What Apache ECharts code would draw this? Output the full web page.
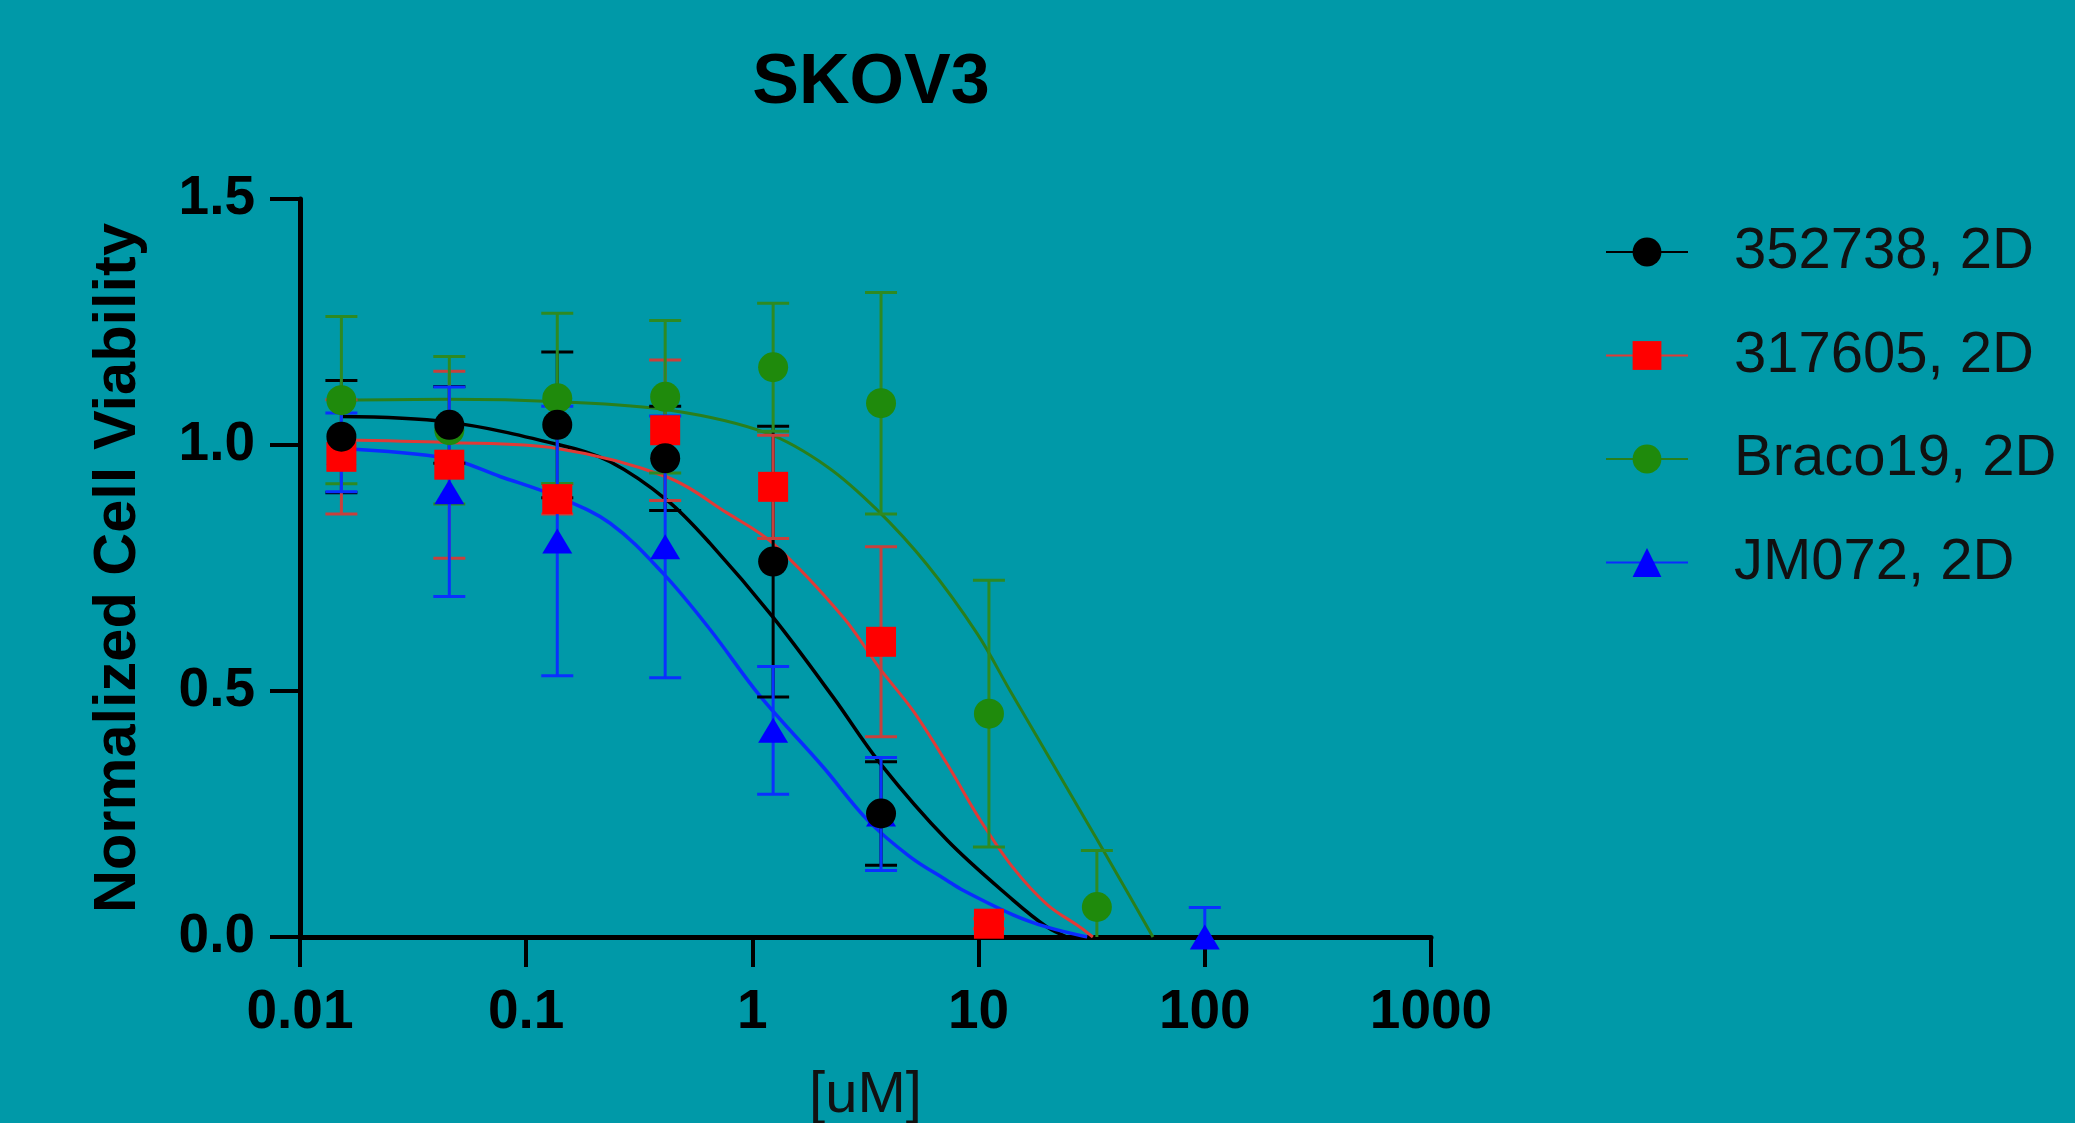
<!DOCTYPE html>
<html lang="en">
    <head>
        <meta charset="UTF-8" />
        <script type="text/javascript" src="https://cdn.jsdelivr.net/npm/echarts@6/dist/echarts.min.js"></script>
        <title>SKOV3</title>
        <style type="text/css">
            html,
            body {
                margin: 0;
                padding: 0;
                background: #0099a8;
            }
            #chart {
                width: 2075px;
                height: 1123px;
            }
        </style>
    </head>

    <body>
        <div id="chart"></div>
        <script type="text/javascript">
            // 3-fold dilution series, uM
            const concentrations = [0.01524, 0.04572, 0.1372, 0.4115, 1.235, 3.704, 11.11, 33.33, 100];
            const seriesNames = ["352738, 2D", "317605, 2D", "Braco19, 2D", "JM072, 2D"];
            const xTickLabels = ["0.01", "0.1", "1", "10", "100", "1000"];
            const yTickLabels = ["0.0", "0.5", "1.0", "1.5"];

            // mean and SD per concentration (null = no point drawn)
            const mean352738 = [1.017, 1.041, 1.041, 0.973, 0.763, 0.251, null, null, null];
            const sd352738 = [0.114, 0.078, 0.148, 0.106, 0.275, 0.105, null, null, null];
            const mean317605 = [0.976, 0.96, 0.89, 1.03, 0.915, 0.6, 0.027, null, null];
            const sd317605 = [0.116, 0.19, 0.03, 0.143, 0.105, 0.193, 0.01, null, null];
            const meanBraco19 = [1.091, 1.03, 1.095, 1.098, 1.158, 1.085, 0.454, 0.061, null];
            const sdBraco19 = [0.17, 0.15, 0.173, 0.155, 0.13, 0.225, 0.271, 0.115, null];
            const meanJM072 = [0.985, 0.905, 0.805, 0.793, 0.42, 0.25, null, null, 0.0];
            const sdJM072 = [0.08, 0.213, 0.274, 0.266, 0.13, 0.115, null, null, 0.06];

            // fitted curves
            const fit352738X = [0.0152, 0.0447, 0.141, 0.235, 0.419, 0.65, 1.233, 2.27, 3.67, 7.25, 14.2, 20.1, 24.6];
            const fit352738Y = [1.058, 1.047, 1.0, 0.966, 0.888, 0.8, 0.65, 0.488, 0.353, 0.197, 0.075, 0.02, 0.0];
            const fit317605X = [0.0152, 0.0447, 0.137, 0.419, 0.772, 1.233, 2.52, 3.67, 5.13, 7.25, 10.1, 14.2, 20.1, 28.1, 32.0];
            const fit317605Y = [1.01, 1.005, 0.993, 0.935, 0.862, 0.8, 0.65, 0.545, 0.46, 0.352, 0.24, 0.141, 0.066, 0.02, 0.0];
            const fitBraco19X = [0.0152, 0.0447, 0.137, 0.44, 1.16, 2.14, 3.56, 5.91, 9.84, 13.8, 16.9, 28.1, 39.3, 59.0];
            const fitBraco19Y = [1.091, 1.093, 1.088, 1.07, 1.024, 0.956, 0.868, 0.757, 0.617, 0.5, 0.431, 0.257, 0.142, 0.0];
            const fitJM072X = [0.0152, 0.0447, 0.0766, 0.137, 0.235, 0.403, 0.65, 1.08, 2.05, 3.24, 4.98, 7.25, 8.53, 14.2, 20.1, 30.2];
            const fitJM072Y = [0.993, 0.973, 0.936, 0.895, 0.841, 0.739, 0.625, 0.49, 0.346, 0.237, 0.163, 0.115, 0.095, 0.045, 0.02, 0.0];

            const font = "'Liberation Sans', Arial, sans-serif";

            function pts(means) {
                let out = [];
                concentrations.forEach((c, i) => {
                    if (means[i] != null) out.push([c, means[i]]);
                });
                return out;
            }

            function bars(means, sds) {
                let out = [];
                concentrations.forEach((c, i) => {
                    if (means[i] != null) out.push([c, means[i] - sds[i], means[i] + sds[i]]);
                });
                return out;
            }

            function curve(xs, ys) {
                return xs.map((x, i) => [x, ys[i]]);
            }

            function renderBar(params, api) {
                let x = api.value(0);
                let hi = api.coord([x, api.value(2)]);
                let lo = api.coord([x, api.value(1)]);
                let half = 16;
                let style = { stroke: api.visual("color"), lineWidth: 3 };
                return {
                    type: "group",
                    children: [
                        { type: "line", shape: { x1: hi[0], y1: hi[1], x2: lo[0], y2: lo[1] }, style: style },
                        { type: "line", shape: { x1: hi[0] - half, y1: hi[1], x2: hi[0] + half, y2: hi[1] }, style: style },
                        { type: "line", shape: { x1: lo[0] - half, y1: lo[1], x2: lo[0] + half, y2: lo[1] }, style: style },
                    ],
                };
            }

            const groups = [
                { name: seriesNames[0], mean: mean352738, sd: sd352738, fx: fit352738X, fy: fit352738Y,
                  symbol: "circle", size: 30, marker: "#000000", line: "#000000", bar: "#000000", width: 3.5, z: 8 },
                { name: seriesNames[1], mean: mean317605, sd: sd317605, fx: fit317605X, fy: fit317605Y,
                  symbol: "rect", size: 30, marker: "#ff0000", line: "#e03a36", bar: "#c8403c", width: 3, z: 7 },
                { name: seriesNames[2], mean: meanBraco19, sd: sdBraco19, fx: fitBraco19X, fy: fitBraco19Y,
                  symbol: "circle", size: 30, marker: "#1f8a0c", line: "#2a7f1c", bar: "#2e8a22", width: 3, z: 5 },
                { name: seriesNames[3], mean: meanJM072, sd: sdJM072, fx: fitJM072X, fy: fitJM072Y,
                  symbol: "triangle", size: [30, 25], marker: "#0000ff", line: "#0a2cff", bar: "#0a30ff", width: 3.5, z: 6 },
            ];

            let series = [];
            // curves first so the legend takes its icon from them
            groups.forEach((g) => {
                series.push({
                    name: g.name,
                    type: "line",
                    data: curve(g.fx, g.fy),
                    smooth: 0.35,
                    symbol: g.symbol,
                    showSymbol: false,
                    lineStyle: { color: g.line, width: g.width },
                    itemStyle: { color: g.marker },
                    z: 2,
                    silent: true,
                });
            });
            groups.forEach((g) => {
                series.push({
                    name: g.name,
                    type: "custom",
                    renderItem: renderBar,
                    itemStyle: { color: g.bar },
                    encode: { x: 0, y: [1, 2] },
                    data: bars(g.mean, g.sd),
                    clip: true,
                    z: 3,
                });
                series.push({
                    name: g.name,
                    type: "scatter",
                    symbol: g.symbol,
                    symbolSize: g.size,
                    itemStyle: { color: g.marker, opacity: 1 },
                    data: pts(g.mean),
                    clip: false,
                    z: g.z,
                });
            });

            let chart = echarts.init(document.getElementById("chart"));
            chart.setOption({
                backgroundColor: "#0099a8",
                animation: false,
                title: {
                    text: "SKOV3",
                    left: 866,
                    top: 44,
                    textAlign: "center",
                    textStyle: { fontFamily: font, fontSize: 70, fontWeight: "bold", color: "#000" },
                },
                legend: {
                    orient: "vertical",
                    left: 1605,
                    top: 222,
                    padding: 0,
                    itemWidth: 82,
                    itemHeight: 36,
                    itemGap: 43.5,
                    data: seriesNames,
                    textStyle: {
                        fontFamily: font,
                        fontSize: 58,
                        color: "#111",
                        lineHeight: 60,
                        padding: [0, 0, 0, 41],
                    },
                },
                grid: { left: 300, right: 644, top: 199, bottom: 186, outerBoundsMode: "none" },
                xAxis: {
                    type: "log",
                    logBase: 10,
                    min: 0.01,
                    max: 1000,
                    name: "[uM]",
                    nameLocation: "middle",
                    nameGap: 130,
                    nameTextStyle: { fontFamily: font, fontSize: 58, color: "#111" },
                    axisLine: { lineStyle: { color: "#000", width: 5 } },
                    axisTick: { length: 30, lineStyle: { color: "#000", width: 4 } },
                    minorTick: { show: false },
                    splitLine: { show: false },
                    axisLabel: {
                        margin: 48,
                        fontFamily: font,
                        fontSize: 55,
                        fontWeight: "bold",
                        color: "#000",
                        formatter: (v) => xTickLabels[Math.round(Math.log10(v)) + 2],
                    },
                },
                yAxis: {
                    type: "value",
                    min: 0,
                    max: 1.5,
                    interval: 0.5,
                    name: "Normalized Cell Viability",
                    nameLocation: "middle",
                    nameGap: 151,
                    nameTextStyle: { fontFamily: font, fontSize: 59.5, fontWeight: "bold", color: "#000" },
                    axisLine: { show: true, lineStyle: { color: "#000", width: 5 } },
                    axisTick: { show: true, length: 30, lineStyle: { color: "#000", width: 4 } },
                    splitLine: { show: false },
                    axisLabel: {
                        margin: 45,
                        fontFamily: font,
                        fontSize: 55,
                        fontWeight: "bold",
                        color: "#000",
                        formatter: (v, i) => yTickLabels[i],
                    },
                },
                series: series,
            });
        </script>
    </body>
</html>
